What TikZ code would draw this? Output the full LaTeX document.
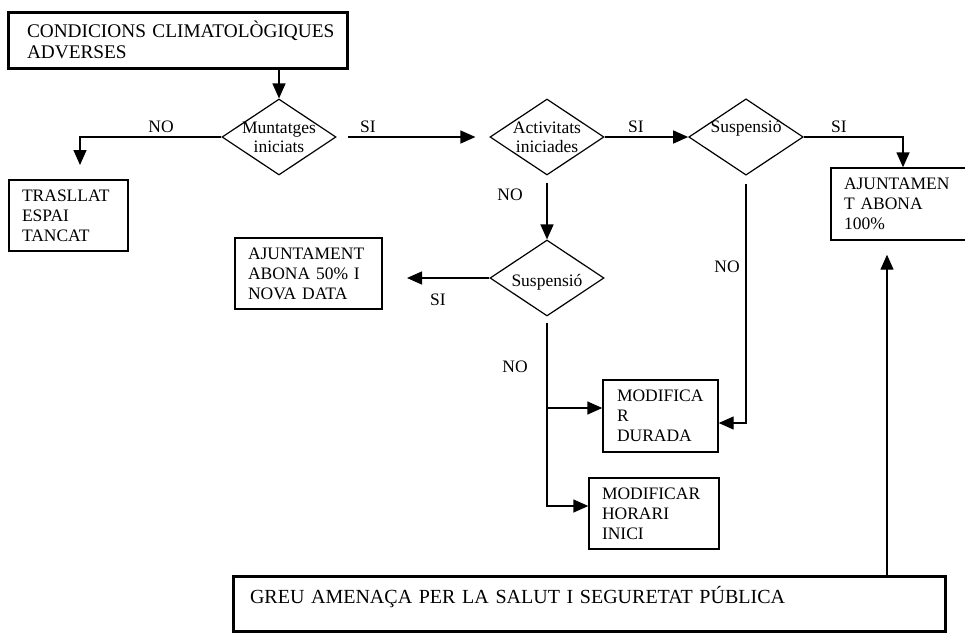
\documentclass[tikz,border=0pt]{standalone}
\usepackage{fontspec}
\setmainfont{Liberation Serif}
\usetikzlibrary{shapes.geometric,arrows.meta}
\begin{document}
\begin{tikzpicture}[x=1pt,y=-1pt,
  box/.style={draw, line width=1.4pt, rectangle, inner sep=0pt, align=left, font=\fontsize{17.5}{20}\selectfont},
  thickbox/.style={box, line width=3pt},
  dia/.style={draw, diamond, line width=1.2pt, aspect=1.5, inner sep=-1.5pt, minimum width=114pt, minimum height=76pt, align=center, font=\fontsize{17.5}{19}\selectfont},
  lbl/.style={inner sep=0pt, font=\fontsize{17.5}{20}\selectfont},
  conn/.style={line width=1.4pt},
  arr/.style={-{Triangle[length=15pt,width=13pt]}}
]
\fill[white] (0,0) rectangle (965,633);
\useasboundingbox (0,0) rectangle (965,633);

% boxes
\node[thickbox, minimum width=339pt, minimum height=56pt, text width=301pt, font=\fontsize{19.3}{21}\selectfont] (top) at (177.5,40) {\mbox{CONDICIONS CLIMATOLÒGIQUES}\\ADVERSES};
\node[box, minimum width=119pt, minimum height=71pt, text width=93pt] (trasllat) at (68.5,215.5) {TRASLLAT\\ESPAI\\TANCAT};
\node[box, minimum width=144pt, minimum height=72pt, text width=118pt] (box100) at (903,204) {AJUNTAMEN\\T ABONA\\100\%};
\node[box, minimum width=147pt, minimum height=71pt, text width=121pt] (box50) at (308.5,273.5) {AJUNTAMENT\\ABONA 50\% I\\NOVA DATA};
\node[box, minimum width=115pt, minimum height=72pt, text width=87pt] (durada) at (660.5,416) {MODIFICA\\R\\DURADA};
\node[box, minimum width=130pt, minimum height=71pt, text width=104pt] (horari) at (654,513.5) {MODIFICAR\\HORARI\\INICI};
\node[thickbox, minimum width=712pt, minimum height=55pt, text width=678pt, text height=10pt, text depth=10pt, font=\fontsize{20}{22}\selectfont] (greu) at (589,603.5) {GREU AMENAÇA PER LA SALUT I SEGURETAT PÚBLICA};

% diamonds
\node[dia] (d1) at (279,137) {Muntatges\\iniciats};
\node[dia] (d2) at (547,137) {Activitats\\iniciades};
\node[dia, text height=12pt, text depth=22pt] (d3) at (746,137) {Suspensió};
\node[dia, text height=20pt, text depth=4pt] (d4) at (547,278) {Suspensió};

% free ends
\coordinate (notip) at (80,165);
\coordinate (sitip) at (407,278);

% connectors
\draw[conn,arr] (top.south -| d1.north) -- (d1.north);
\draw[conn,arr] (d1.west) -| (notip);
\draw[conn,arr] ([xshift=11pt]d1.east) -- ([xshift=-14pt]d2.west);
\draw[conn,arr] (d2.east) -- (d3.west);
\draw[conn,arr] (d3.east) -| (box100.north);
\draw[conn,arr] ([yshift=-7pt]d2.south) -- (d4.north);
\draw[conn,arr] (d4.west) -- (sitip);
\draw[conn,arr] ([yshift=-6pt]d4.south) |- ([yshift=7.5pt]horari.west);
\draw[conn,arr] ([yshift=8pt]durada.west -| d4.south) -- ([yshift=8pt]durada.west);
\draw[conn,arr] ([yshift=-8pt]d3.south) |- ([yshift=-7pt]durada.east);
\draw[conn,arr] ([xshift=-16pt]box100.south |- greu.north) -- ([xshift=-16pt,yshift=-14pt]box100.south);

% labels
\node[lbl] (lno1) at (161,127) {NO};
\node[lbl] (lsi1) at (368,127) {SI};
\node[lbl] (lsi2) at (636,127) {SI};
\node[lbl] (lsi3) at (839,127) {SI};
\node[lbl] (lno2) at (510,195) {NO};
\node[lbl] (lsi4) at (438,300) {SI};
\node[lbl] (lno3) at (515,367) {NO};
\node[lbl] (lno4) at (727,267) {NO};
\end{tikzpicture}
\end{document}
